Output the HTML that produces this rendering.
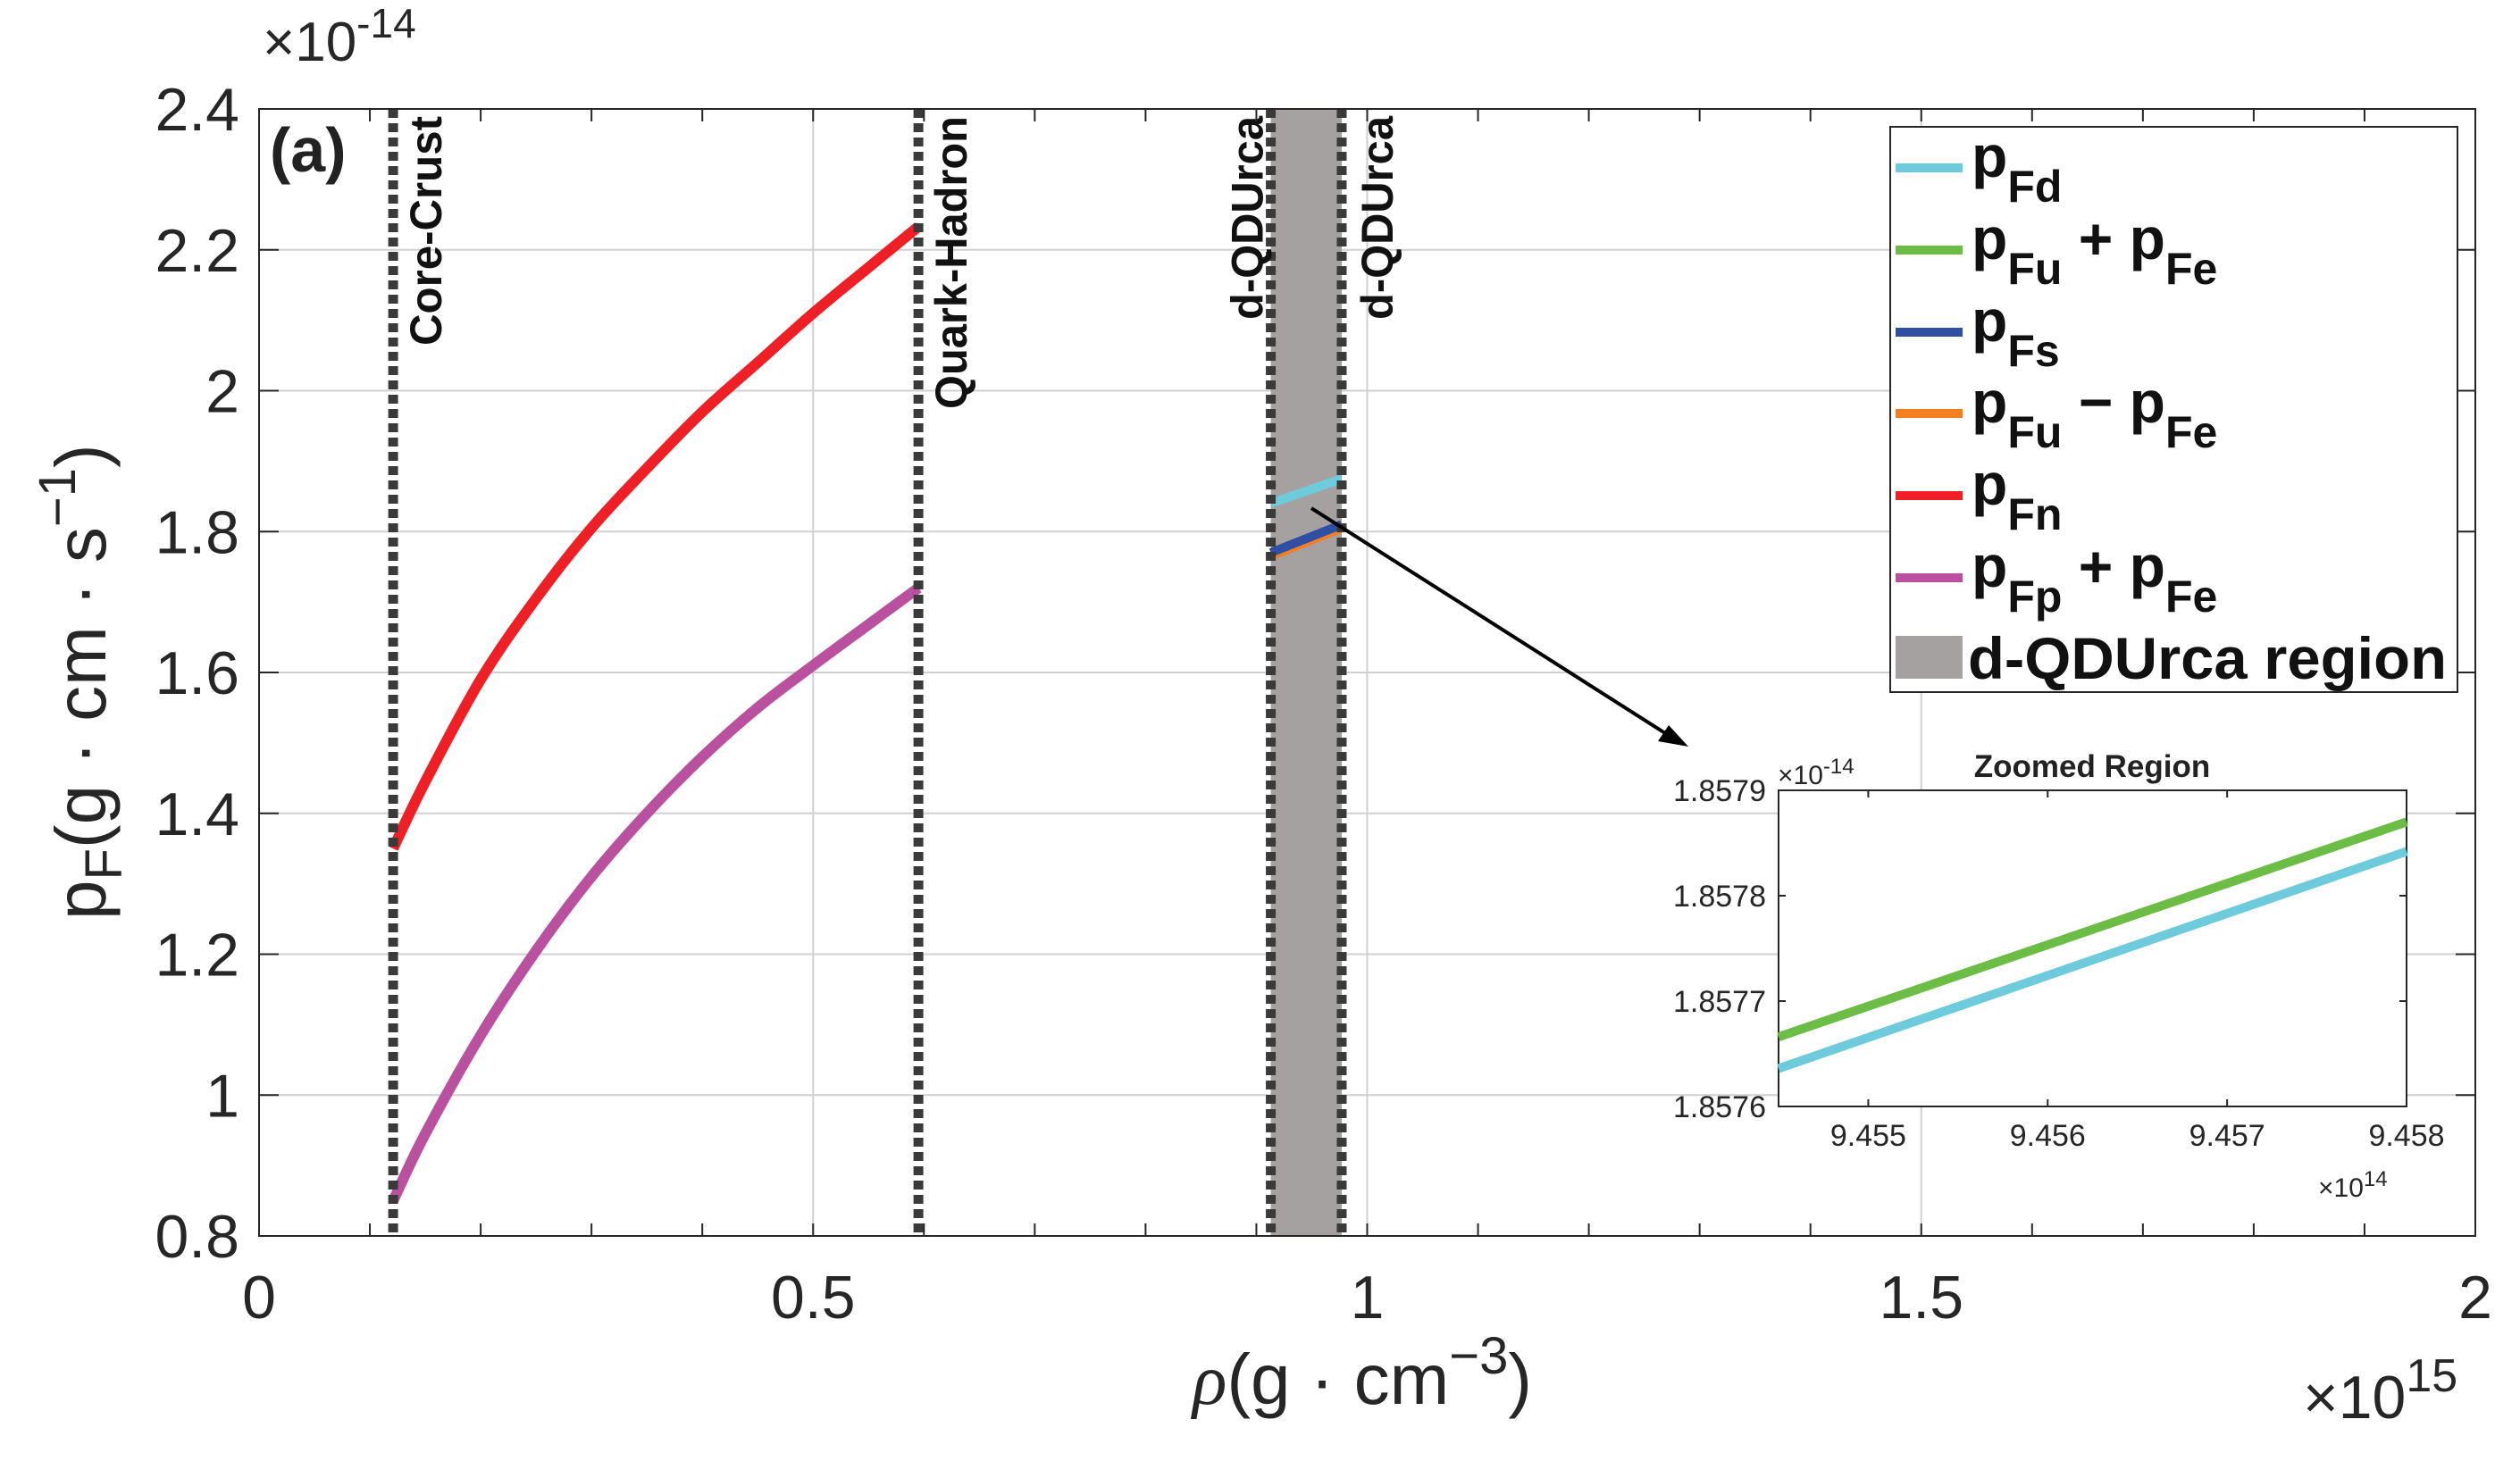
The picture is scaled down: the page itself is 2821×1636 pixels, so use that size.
<!DOCTYPE html>
<html><head><meta charset="utf-8"><style>
html,body{margin:0;padding:0;background:#fff;}
svg{display:block;font-family:"Liberation Sans",Arial,sans-serif;}
</style></head><body>
<svg id="chart" width="2821" height="1636" viewBox="0 0 2821 1636" xmlns="http://www.w3.org/2000/svg">
<g id="main"></g>
<g font-family="Liberation Sans, Arial, sans-serif" fill="#262626">
<text x="294" y="68" font-size="62">×10<tspan dy="-26" font-size="46">-14</tspan></text>
<text x="2578" y="1588" font-size="68">×10<tspan dy="-30" font-size="52">15</tspan></text>
<text x="1335" y="1572" font-size="80"><tspan font-family="Liberation Serif" font-style="italic">ρ</tspan>(g · cm<tspan dy="-34" font-size="58">−3</tspan><tspan dy="34">)</tspan></text>
<text transform="translate(118,1030) rotate(-90)" font-size="80">p<tspan dy="18" font-size="58">F</tspan><tspan dy="-18">(g · cm · s</tspan><tspan dy="-34" font-size="58">−1</tspan><tspan dy="34">)</tspan></text>
<text x="302" y="192" font-size="70" font-weight="bold" fill="#222">(a)</text>
<line x1="1468" y1="569" x2="1872" y2="826" stroke="#000" stroke-width="4"/>
<polygon points="1890,836 1856,830 1868,812" fill="#000"/>
</g>
<g id="inset"></g>
<g id="legend"></g>
</svg>
<script>
const xTicks=[0,0.5,1,1.5,2];
const xTickLabels=["0","0.5","1","1.5","2"];
const yTicks=[0.8,1,1.2,1.4,1.6,1.8,2,2.2,2.4];
const yTickLabels=["0.8","1","1.2","1.4","1.6","1.8","2","2.2","2.4"];
const redX=[0.121,0.15,0.2,0.25,0.3,0.35,0.4,0.45,0.5,0.55,0.595];
const redY=[1.35,1.445,1.59,1.705,1.805,1.89,1.97,2.04,2.11,2.175,2.233];
const pinkX=[0.121,0.15,0.2,0.25,0.3,0.35,0.4,0.45,0.5,0.55,0.595];
const pinkY=[0.85,0.945,1.085,1.205,1.31,1.40,1.48,1.55,1.61,1.668,1.72];
const cyanX=[0.913,0.977]; const cyanY=[1.84,1.875];
const blueX=[0.913,0.977]; const blueY=[1.77,1.81];
const orangeX=[0.913,0.977]; const orangeY=[1.765,1.805];
const vlines=[0.121,0.595,0.913,0.977];
const vlineLabels=["Core-Crust","Quark-Hadron","d-QDUrca","d-QDUrca"];
const vlineLabelLen=[257,328,228,228];
const vlineLabelSide=[54,54,-9,57];
const shade=[0.913,0.977];
const insetXTicks=[9.455,9.456,9.457,9.458];
const insetXLabels=["9.455","9.456","9.457","9.458"];
const insetYTicks=[1.8576,1.8577,1.8578,1.8579];
const insetYLabels=["1.8576","1.8577","1.8578","1.8579"];
const insetGreenX=[9.4545,9.458]; const insetGreenY=[1.857666,1.857870];
const insetCyanX=[9.4545,9.458]; const insetCyanY=[1.857636,1.857842];

const NS="http://www.w3.org/2000/svg";
function mk(p,t,a,txt){const e=document.createElementNS(NS,t);for(const k in a)e.setAttribute(k,a[k]);if(txt!==undefined)e.textContent=txt;p.appendChild(e);return e;}
const L=290,R=2771,T=122,B=1384;
const X=v=>L+(v-0)/2*(R-L);
const Y=v=>B-(v-0.8)/1.6*(B-T);
const main=document.getElementById('main');

function smoothPath(pts){let d='M'+pts[0][0]+','+pts[0][1];
for(let i=0;i<pts.length-1;i++){const p0=pts[i-1]||pts[i],p1=pts[i],p2=pts[i+1],p3=pts[i+2]||p2;
const c1=[p1[0]+(p2[0]-p0[0])/6,p1[1]+(p2[1]-p0[1])/6],c2=[p2[0]-(p3[0]-p1[0])/6,p2[1]-(p3[1]-p1[1])/6];
d+=' C'+c1.join(',')+' '+c2.join(',')+' '+p2.join(',');}return d;}

yTicks.forEach(v=>{if(v>0.8&&v<2.4){const g=mk(main,'line',{x1:L,x2:R,y1:Y(v),y2:Y(v),stroke:'#d0d0d0','stroke-width':2});

}});
xTicks.forEach(v=>{if(v>0&&v<2){const g=mk(main,'line',{x1:X(v),x2:X(v),y1:T,y2:B,stroke:'#d0d0d0','stroke-width':2});

}});
const sh=mk(main,'rect',{x:X(shade[0]),y:T,width:X(shade[1])-X(shade[0]),height:B-T,fill:'#a5a1a1'});


function curve(xs,ys,col,w,name){const pts=xs.map((x,i)=>[X(x),Y(ys[i])]);
const p=mk(main,'path',{d:smoothPath(pts),fill:'none',stroke:col,'stroke-width':w,'stroke-linejoin':'round'});

}
curve(redX,redY,'#ee2026',12,'pFn-line');
curve(pinkX,pinkY,'#b9519f',12,'pFp-pFe-line');
curve(orangeX,orangeY,'#f47f20',10,'pFu-minus-pFe-line');
curve(blueX,blueY,'#2f4fa2',10,'pFs-line');
curve(cyanX,cyanY,'#6ecbdc',10,'pFd-line');
vlines.forEach((v,i)=>{const l=mk(main,'line',{x1:X(v),x2:X(v),y1:T,y2:B,stroke:'#3a3a3a','stroke-width':11,'stroke-dasharray':'10 6'});


const tx=X(v)+vlineLabelSide[i], t=mk(main,'text',{x:0,y:0,transform:`translate(${tx},${T+8}) rotate(-90)`,'text-anchor':'end','font-size':50,'font-weight':'bold',fill:'#111',textLength:vlineLabelLen[i],lengthAdjust:'spacingAndGlyphs'},vlineLabels[i]);

});
const box=mk(main,'rect',{x:L,y:T,width:R-L,height:B-T,fill:'none',stroke:'#262626','stroke-width':2});


for(let k=1;k<20;k++){const v=k/10;mk(main,'line',{x1:X(v),x2:X(v),y1:B,y2:B-14,stroke:'#262626','stroke-width':2});mk(main,'line',{x1:X(v),x2:X(v),y1:T,y2:T+14,stroke:'#262626','stroke-width':2});}
yTicks.forEach(v=>{mk(main,'line',{x1:L,x2:L+22,y1:Y(v),y2:Y(v),stroke:'#262626','stroke-width':2});mk(main,'line',{x1:R,x2:R-22,y1:Y(v),y2:Y(v),stroke:'#262626','stroke-width':2});});
xTicks.forEach((v,i)=>{const t=mk(main,'text',{x:X(v),y:1476,'text-anchor':'middle','font-size':68,fill:'#262626'},xTickLabels[i]);

});
yTicks.forEach((v,i)=>{const t=mk(main,'text',{x:268,y:Y(v)+24,'text-anchor':'end','font-size':68,fill:'#262626'},yTickLabels[i]);

});

(function(){
const g=document.getElementById('inset');
const IL=1991,IR=2694,IT=885,IB=1239;
const IX=v=>IL+(v-9.4545)/(9.458-9.4545)*(IR-IL);
const IY=v=>IB-(v-1.8576)/0.0003*(IB-IT);
const bg=mk(g,'rect',{x:IL,y:IT,width:IR-IL,height:IB-IT,fill:'#fff',stroke:'#262626','stroke-width':2});


insetXTicks.forEach((v,i)=>{mk(g,'line',{x1:IX(v),x2:IX(v),y1:IB,y2:IB-8,stroke:'#262626','stroke-width':2});mk(g,'line',{x1:IX(v),x2:IX(v),y1:IT,y2:IT+8,stroke:'#262626','stroke-width':2});
const t=mk(g,'text',{x:IX(v),y:IB+44,'text-anchor':'middle','font-size':34,fill:'#262626'},insetXLabels[i]);

});
insetYTicks.forEach((v,i)=>{mk(g,'line',{x1:IL,x2:IL+8,y1:IY(v),y2:IY(v),stroke:'#262626','stroke-width':2});mk(g,'line',{x1:IR,x2:IR-8,y1:IY(v),y2:IY(v),stroke:'#262626','stroke-width':2});
const t=mk(g,'text',{x:IL-14,y:IY(v)+12,'text-anchor':'end','font-size':34,fill:'#262626'},insetYLabels[i]);

});
function ip(xs,ys,col,name){const p=mk(g,'polyline',{points:xs.map((x,i)=>IX(x)+','+IY(ys[i])).join(' '),fill:'none',stroke:col,'stroke-width':10});

}
ip(insetGreenX,insetGreenY,'#6cbd45','inset-pFu-pFe-line');
ip(insetCyanX,insetCyanY,'#6ecbdc','inset-pFd-line');
const t1=mk(g,'text',{x:2342,y:870,'text-anchor':'middle','font-size':35,'font-weight':'bold',fill:'#222'},'Zoomed Region');


const e1=mk(g,'text',{x:1990,y:878,'font-size':30,fill:'#262626'},'×10');
mk(e1,'tspan',{dy:-12,'font-size':24},'-14');


const e2=mk(g,'text',{x:2595,y:1340,'font-size':30,fill:'#262626'},'×10');
mk(e2,'tspan',{dy:-12,'font-size':24},'14');



const lg=document.getElementById('legend');
const lb=mk(lg,'rect',{x:2116,y:142,width:635,height:633,fill:'#fff',stroke:'#262626','stroke-width':2});


const items=[['#6ecbdc','Fd',null],['#6cbd45','Fu','+ p|Fe'],['#2f4fa2','Fs',null],['#f47f20','Fu','− p|Fe'],['#ee2026','Fn',null],['#b9519f','Fp','+ p|Fe']];
const ys=[188,280,372,463,555,647];
items.forEach((it,i)=>{const y=ys[i];
const sw=mk(lg,'line',{x1:2122,x2:2197,y1:y,y2:y,stroke:it[0],'stroke-width':10});


const t=mk(lg,'text',{x:2207,y:y+10,'font-size':66,'font-weight':'bold',fill:'#111'},'p');
mk(t,'tspan',{dy:28,'font-size':50},it[1]);
if(it[2]){const [a,b]=it[2].split('|');mk(t,'tspan',{dy:-28,'font-size':66},' '+a);mk(t,'tspan',{dy:28,'font-size':50},b);}

});
const rs=mk(lg,'rect',{x:2122,y:712,width:75,height:48,fill:'#a5a1a1'});


const rt=mk(lg,'text',{x:2203,y:760,'font-size':66,'font-weight':'bold',fill:'#111',textLength:536,lengthAdjust:'spacingAndGlyphs'},'d-QDUrca region');


})();
</script>
</body></html>
